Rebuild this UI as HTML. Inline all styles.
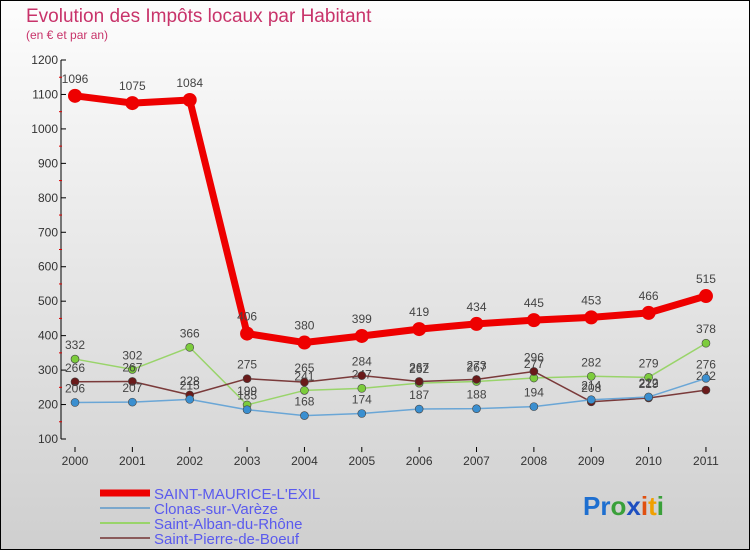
<!DOCTYPE html>
<html><head><meta charset="utf-8"><style>
body{margin:0;width:750px;height:550px;overflow:hidden}
svg{display:block;font-family:"Liberation Sans",sans-serif}
</style></head><body>
<svg id="c" width="750" height="550">
<defs><linearGradient id="bg" x1="0" y1="0" x2="0" y2="1"><stop offset="0" stop-color="#fdfdfd"/><stop offset="1" stop-color="#cfcfcf"/></linearGradient></defs>
<rect x="0" y="0" width="750" height="550" fill="url(#bg)" stroke="#000" stroke-width="2"/>
<text x="26" y="22" font-size="19" fill="#c8336a">Evolution des Impôts locaux par Habitant</text>
<text x="26" y="39" font-size="12" fill="#c8336a">(en € et par an)</text>
<g id="axes"></g><g id="series"></g>
<g>
<line x1="100" y1="493" x2="150" y2="493" stroke="#e00" stroke-width="7"/>
<text x="154" y="499" font-size="15" fill="#5a5aee">SAINT-MAURICE-L'EXIL</text>
<line x1="100" y1="508" x2="150" y2="508" stroke="#7aa7cc" stroke-width="2"/>
<text x="154" y="514" font-size="15" fill="#5a5aee">Clonas-sur-Varèze</text>
<line x1="100" y1="523" x2="150" y2="523" stroke="#99d46a" stroke-width="2"/>
<text x="154" y="529" font-size="15" fill="#5a5aee">Saint-Alban-du-Rhône</text>
<line x1="100" y1="538" x2="150" y2="538" stroke="#8a5a5a" stroke-width="2"/>
<text x="154" y="544" font-size="15" fill="#5a5aee">Saint-Pierre-de-Boeuf</text>
</g>
<text x="583" y="515" font-size="26" font-weight="bold"><tspan fill="#1e6fd0">Pr</tspan><tspan fill="#3aa03a">o</tspan><tspan fill="#1e4fc0">x</tspan><tspan fill="#e05010">i</tspan><tspan fill="#f0a000">t</tspan><tspan fill="#3aa03a">i</tspan></text>
</svg>
<script>
const years=["2000","2001","2002","2003","2004","2005","2006","2007","2008","2009","2010","2011"];
const yTicks=[100,200,300,400,500,600,700,800,900,1000,1100,1200];
const stMaurice=[1096,1075,1084,406,380,399,419,434,445,453,466,515];
const clonas=[206,207,215,185,168,174,187,188,194,214,222,276];
const stAlban=[332,302,366,199,241,247,262,267,277,282,279,378];
const stPierre=[266,267,228,275,265,284,267,273,296,208,219,242];
const NS="http://www.w3.org/2000/svg";
const X=i=>75+i*57.36;
const Y=v=>439-(v-100)*(379/1100);
function el(t,a,p){const e=document.createElementNS(NS,t);for(const k in a)e.setAttribute(k,a[k]);p.appendChild(e);return e;}
const ax=document.getElementById('axes');
const yl=el('line',{x1:61,y1:Y(1200),x2:61,y2:Y(100),stroke:'#000'},ax);


yTicks.forEach(v=>{
  el('line',{x1:61,y1:Y(v),x2:66,y2:Y(v),stroke:'#000'},ax);
  if(v<1200)el('line',{x1:59,y1:Y(v+50),x2:62,y2:Y(v+50),stroke:'#d00'},ax);
  const t=el('text',{x:58,y:Y(v)+4,'font-size':12,fill:'#333','text-anchor':'end'},ax);
  
  
  t.textContent=v;
});
years.forEach((y,i)=>{
  el('line',{x1:X(i),y1:447,x2:X(i),y2:452,stroke:'#000'},ax);
  const t=el('text',{x:X(i),y:465,'font-size':12,fill:'#333','text-anchor':'middle'},ax);
  
  
  t.textContent=y;
});
const sg=document.getElementById('series');
function draw(data,color,dot,w,r,name){
  const g=el('g',{},sg);
  
  
  el('polyline',{points:data.map((v,i)=>X(i)+','+Y(v)).join(' '),fill:'none',stroke:color,'stroke-width':w,'stroke-linejoin':'round'},g);
  data.forEach((v,i)=>{
    const c=el('circle',{cx:X(i),cy:Y(v),r:r,fill:dot,stroke:w>4?dot:'#444','stroke-width':w>4?0:0.6},g);
    
    
    const t=el('text',{x:X(i),y:Y(v)-(r+6),'font-size':12,fill:'#444','text-anchor':'middle'},g);
    
    
    t.textContent=v;
  });
}
draw(stAlban,'#99d46a','#7ccc3c',1.5,4,'saint-alban-series');
draw(stPierre,'#7a3a3a','#6a1a1a',1.5,4,'saint-pierre-series');
draw(clonas,'#6aa6d6','#3a8fd0',1.5,4,'clonas-series');
draw(stMaurice,'#ee0000','#ee0000',7,7,'saint-maurice-series');
</script>
</body></html>
